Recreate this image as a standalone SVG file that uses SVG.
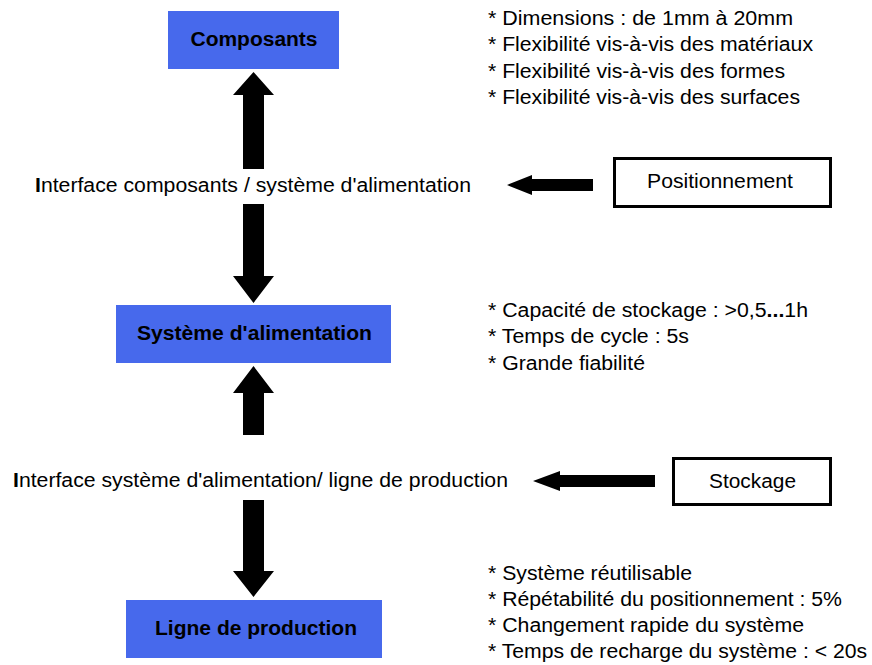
<svg xmlns="http://www.w3.org/2000/svg" width="872" height="665" viewBox="0 0 872 665">
<style>
.blue{fill:#4769EC}
.lbl{font-family:"Liberation Sans",Arial,sans-serif;font-size:20px;font-weight:bold;fill:#000;text-anchor:middle}
.txt{font-family:"Liberation Sans",Arial,sans-serif;font-size:20px;fill:#000}
.box{fill:#fff;stroke:#000;stroke-width:3}
.arr{fill:#000}
</style>
<rect width="872" height="665" fill="#fff"/>
<g id="composants"><rect class="blue" x="168" y="11" width="171" height="58"/><text class="lbl" x="254" y="46" textLength="127" lengthAdjust="spacingAndGlyphs">Composants</text></g>
<g id="systeme"><rect class="blue" x="116" y="305" width="275" height="58"/><text class="lbl" x="254.5" y="340" textLength="235" lengthAdjust="spacingAndGlyphs">Système d'alimentation</text></g>
<g id="ligne"><rect class="blue" x="126" y="600" width="256" height="58"/><text class="lbl" x="256" y="635" textLength="202" lengthAdjust="spacingAndGlyphs">Ligne de production</text></g>
<g id="positionnement"><rect class="box" x="614.5" y="158.5" width="216" height="48"/><text class="txt" x="720" y="188" text-anchor="middle" textLength="146" lengthAdjust="spacingAndGlyphs">Positionnement</text></g>
<g id="stockage"><rect class="box" x="673.5" y="458.5" width="157" height="46"/><text class="txt" x="752.5" y="488" text-anchor="middle" textLength="87" lengthAdjust="spacingAndGlyphs">Stockage</text></g>
<g id="interface1"><text class="txt" x="35" y="192" textLength="436" lengthAdjust="spacingAndGlyphs"><tspan font-weight="bold">I</tspan>nterface composants / système d'alimentation</text></g>
<g id="interface2"><text class="txt" x="13" y="487" textLength="495" lengthAdjust="spacingAndGlyphs"><tspan font-weight="bold">I</tspan>nterface système d'alimentation/ ligne de production</text></g>
<g id="notes1"><text class="txt" x="488" y="25" textLength="305" lengthAdjust="spacingAndGlyphs">* Dimensions : de 1mm à 20mm</text><text class="txt" x="488" y="51" textLength="325" lengthAdjust="spacingAndGlyphs">* Flexibilité vis-à-vis des matériaux</text><text class="txt" x="488" y="78" textLength="297" lengthAdjust="spacingAndGlyphs">* Flexibilité vis-à-vis des formes</text><text class="txt" x="488" y="104" textLength="312" lengthAdjust="spacingAndGlyphs">* Flexibilité vis-à-vis des surfaces</text></g>
<g id="notes2"><text class="txt" x="488" y="317" textLength="320" lengthAdjust="spacingAndGlyphs">* Capacité de stockage : &gt;0,5<tspan font-weight="bold">...</tspan>1h</text><text class="txt" x="488" y="343" textLength="201" lengthAdjust="spacingAndGlyphs">* Temps de cycle : 5s</text><text class="txt" x="488" y="370" textLength="157" lengthAdjust="spacingAndGlyphs">* Grande fiabilité</text></g>
<g id="notes3"><text class="txt" x="488" y="580" textLength="204" lengthAdjust="spacingAndGlyphs">* Système réutilisable</text><text class="txt" x="488" y="606" textLength="354" lengthAdjust="spacingAndGlyphs">* Répétabilité du positionnement : 5%</text><text class="txt" x="488" y="632" textLength="316" lengthAdjust="spacingAndGlyphs">* Changement rapide du système</text><text class="txt" x="488" y="658" textLength="379" lengthAdjust="spacingAndGlyphs">* Temps de recharge du système : &lt; 20s</text></g>
<g id="connectors">
<polygon class="arr" points="253.5,72 274,95 264,95 264,169 243,169 243,95 233,95"/>
<polygon class="arr" points="243,204 264,204 264,276 274,276 253.5,303 233,276 243,276"/>
<polygon class="arr" points="253.5,366 274,393 264,393 264,435 243,435 243,393 233,393"/>
<polygon class="arr" points="243,500 264,500 264,571 274,571 253.5,597 233,571 243,571"/>
<polygon class="arr" points="507,185 532,175 532,179 593,179 593,191 532,191 532,195"/>
<polygon class="arr" points="533,481 560,471 560,475 655,475 655,487 560,487 560,491"/>
</g>
</svg>
